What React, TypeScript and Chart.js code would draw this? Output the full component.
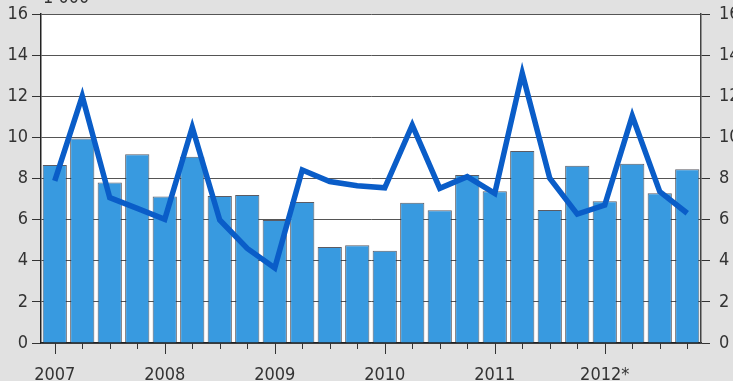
import React, { useEffect, useRef } from "react";
import { Chart, registerables } from "chart.js";

Chart.register(...registerables);

const quarters = [
  "2007", "", "", "",
  "2008", "", "", "",
  "2009", "", "", "",
  "2010", "", "", "",
  "2011", "", "", "",
  "2012*", "", "", "",
];
const barValues = [
  8.66, 9.95, 7.8, 9.18,
  7.12, 9.06, 7.15, 7.2,
  5.98, 6.86, 4.67, 4.75,
  4.49, 6.82, 6.45, 8.17,
  7.38, 9.34, 6.47, 8.62,
  6.89, 8.72, 7.28, 8.45,
];
const lineValues = [
  7.88, 12.0, 7.07, 6.55,
  6.02, 10.49, 5.98, 4.6,
  3.65, 8.41, 7.85, 7.65,
  7.55, 10.6, 7.52, 8.09,
  7.28, 13.12, 8.01, 6.27,
  6.71, 11.04, 7.36, 6.31,
];
const yTicks = [0, 2, 4, 6, 8, 10, 12, 14, 16];
const unitLabel = "1 000";

const FONT = "'DejaVu Sans Condensed', 'Liberation Sans Narrow', sans-serif";

const decorPlugin = {
  id: "decor",
  beforeDraw(chart: any) {
    const { ctx, chartArea } = chart;
    ctx.save();
    ctx.fillStyle = "#e1e1e1";
    ctx.fillRect(0, 0, chart.width, chart.height);
    ctx.fillStyle = "#ffffff";
    ctx.fillRect(chartArea.left, chartArea.top, chartArea.right - chartArea.left, chartArea.bottom - chartArea.top);
    ctx.restore();
  },
  afterDraw(chart: any) {
    const { ctx, chartArea } = chart;
    const x = chart.scales.x;
    ctx.save();
    ctx.strokeStyle = "#333333";
    ctx.lineWidth = 1;
    const n = x.ticks.length;
    for (let i = 0; i < n; i++) {
      const px = Math.round(x.getPixelForTick(i)) + 0.5;
      const len = i % 4 === 0 ? 11 : 6;
      ctx.beginPath();
      ctx.moveTo(px, chartArea.bottom);
      ctx.lineTo(px, chartArea.bottom + len);
      ctx.stroke();
    }
    ctx.fillStyle = "#333333";
    ctx.font = "18px " + FONT;
    ctx.textAlign = "left";
    ctx.textBaseline = "alphabetic";
    ctx.fillText(unitLabel, chartArea.left + 2, 3);
    ctx.restore();
  },
};

const fitY = (w: number) => (s: any) => {
  s.width = w;
  s.paddingTop = 0;
  s.paddingBottom = 0;
};

export default function App() {
  const ref = useRef<HTMLCanvasElement | null>(null);
  useEffect(() => {
    if (!ref.current) return;
    const tickFont = { family: FONT, size: 18 };
    const chart = new Chart(ref.current, {
      type: "bar",
      data: {
        labels: quarters,
        datasets: [
          {
            type: "line",
            data: lineValues,
            borderColor: "#0a5dc8",
            borderWidth: 5.5,
            pointRadius: 0,
            tension: 0,
            borderJoinStyle: "miter",
            yAxisID: "y",
            order: 0,
          } as any,
          {
            type: "bar",
            data: barValues,
            backgroundColor: "#389ae0",
            borderColor: "rgba(50,50,60,0.8)",
            borderWidth: 1,
            barPercentage: 0.88,
            categoryPercentage: 1,
            yAxisID: "y",
            order: 1,
          },
        ],
      },
      options: {
        animation: false,
        responsive: true,
        maintainAspectRatio: false,
        layout: { padding: { top: 14, left: 0, right: 0, bottom: 0 } },
        plugins: { legend: { display: false }, tooltip: { enabled: false } },
        scales: {
          x: {
            offset: true,
            grid: { display: true, drawOnChartArea: false, drawTicks: false },
            border: { display: true, color: "#222", width: 1.5 },
            ticks: {
              autoSkip: false,
              maxRotation: 0,
              minRotation: 0,
              padding: 22,
              color: "#333",
              font: tickFont,
            },
            afterFit: (s: any) => { s.height = 38; s.paddingLeft = 0; s.paddingRight = 0; },
          },
          y: {
            position: "left",
            min: 0,
            max: 16,
            afterBuildTicks: (s: any) => { s.ticks = yTicks.map((v) => ({ value: v })); },
            grid: { color: "#555", lineWidth: 1, tickLength: 9, tickColor: "#333" },
            border: { display: true, color: "#222", width: 1.5 },
            ticks: { padding: 4, color: "#333", font: tickFont },
            afterFit: fitY(41),
          },
          y2: {
            position: "right",
            min: 0,
            max: 16,
            afterBuildTicks: (s: any) => { s.ticks = yTicks.map((v) => ({ value: v })); },
            grid: { drawOnChartArea: false, tickLength: 9, tickColor: "#333" },
            border: { display: true, color: "#444", width: 1.5 },
            ticks: { padding: 9, color: "#333", font: tickFont },
            afterFit: fitY(32),
          },
        },
      },
      plugins: [decorPlugin],
    });
    return () => chart.destroy();
  }, []);
  return (
    <div style={{ position: "fixed", left: 0, top: 0, width: 733, height: 381 }}>
      <canvas ref={ref} />
    </div>
  );
}
